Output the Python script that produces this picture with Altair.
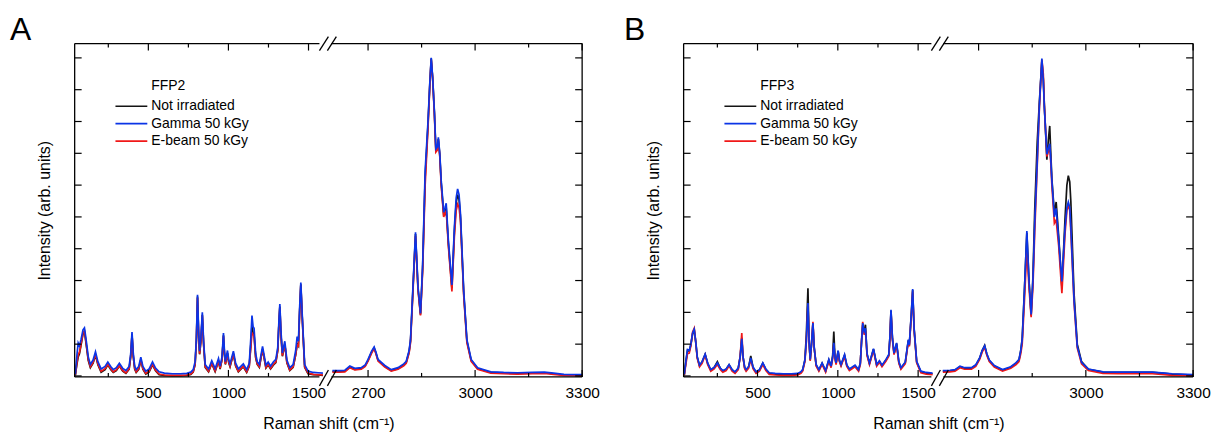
import altair as alt
import pandas as pd

FONT = "Liberation Sans"
SERIES = ["Not irradiated", "Gamma 50 kGy", "E-beam 50 kGy"]
COLORS = {"Not irradiated": "#141414", "Gamma 50 kGy": "#0b34e6", "E-beam 50 kGy": "#f01818"}
DRAW_ORDER = ["Not irradiated", "E-beam 50 kGy", "Gamma 50 kGy"]

X_LABEL_VALUES = [500, 1000, 1500, 2700, 3000, 3300]
X_MAJOR_TICKS = [500, 1000, 1500, 2700, 3000, 3300]
X_MINOR_TICKS = [250, 750, 1250, 2850, 3150]
Y_TICKS = [0.0, 0.1, 0.2, 0.3, 0.4, 0.5, 0.6, 0.7, 0.8, 0.9, 1.0]
X_BREAK_DOMAIN = [40, 1590, 2600, 3300]
Y_DOMAIN = [-0.003, 1.045]

# ---------------- Panel A (FFP2) ----------------
A_LOW_X = [44, 55, 62, 70, 80, 92, 101, 110, 125, 138,
           155, 170, 185, 205, 230, 247, 265, 281, 300, 319,
           340, 360, 380, 390, 398, 406, 415, 424, 440, 453,
           466, 484, 505, 526, 545, 567, 600, 650, 700, 740,
           765, 780, 792, 800, 807, 814, 820, 828, 837, 845,
           855, 876, 896, 917, 938, 948, 960, 969, 975, 981,
           994, 1002, 1010, 1031, 1045, 1062, 1093, 1114, 1130, 1140,
           1147, 1154, 1160, 1170, 1180, 1193, 1213, 1234, 1248, 1263,
           1280, 1296, 1308, 1315, 1321, 1328, 1337, 1352, 1365, 1383,
           1404, 1420, 1429, 1437, 1445, 1452, 1460, 1476, 1497, 1530,
           1560, 1590]
A_LOW_BLUE = [0.005, 0.070, 0.104, 0.095, 0.115, 0.145, 0.151, 0.120, 0.060, 0.036,
              0.050, 0.076, 0.045, 0.022, 0.030, 0.044, 0.030, 0.020, 0.026, 0.040,
              0.024, 0.017, 0.030, 0.070, 0.138, 0.070, 0.030, 0.020, 0.030, 0.059,
              0.030, 0.015, 0.022, 0.044, 0.025, 0.013, 0.009, 0.007, 0.007, 0.008,
              0.012, 0.020, 0.045, 0.120, 0.255, 0.140, 0.078, 0.120, 0.200, 0.110,
              0.036, 0.022, 0.048, 0.023, 0.055, 0.031, 0.060, 0.135, 0.080, 0.045,
              0.080, 0.050, 0.038, 0.078, 0.040, 0.022, 0.038, 0.020, 0.040, 0.120,
              0.190, 0.155, 0.150, 0.070, 0.045, 0.036, 0.093, 0.034, 0.044, 0.031,
              0.044, 0.052, 0.090, 0.170, 0.226, 0.140, 0.072, 0.109, 0.050, 0.026,
              0.036, 0.080, 0.124, 0.109, 0.220, 0.294, 0.200, 0.036, 0.015, 0.011,
              0.010, 0.009]
A_LOW_RED = [0.003, 0.045, 0.067, 0.075, 0.100, 0.135, 0.142, 0.110, 0.052, 0.029,
             0.043, 0.068, 0.038, 0.015, 0.023, 0.037, 0.023, 0.013, 0.019, 0.033,
             0.017, 0.010, 0.023, 0.062, 0.128, 0.062, 0.023, 0.013, 0.023, 0.051,
             0.023, 0.008, 0.015, 0.037, 0.018, 0.006, 0.003, 0.002, 0.002, 0.003,
             0.006, 0.013, 0.037, 0.110, 0.245, 0.130, 0.070, 0.110, 0.190, 0.100,
             0.029, 0.015, 0.040, 0.016, 0.047, 0.024, 0.052, 0.125, 0.072, 0.038,
             0.072, 0.043, 0.031, 0.070, 0.033, 0.015, 0.031, 0.013, 0.032, 0.090,
             0.135, 0.130, 0.128, 0.060, 0.038, 0.029, 0.085, 0.027, 0.037, 0.024,
             0.036, 0.044, 0.080, 0.160, 0.215, 0.130, 0.064, 0.100, 0.043, 0.019,
             0.029, 0.068, 0.098, 0.095, 0.205, 0.285, 0.190, 0.029, 0.009, 0.005,
             0.004, 0.003]
A_LOW_BLACK = [0.002, 0.040, 0.060, 0.070, 0.098, 0.132, 0.140, 0.106, 0.048, 0.026,
               0.040, 0.066, 0.035, 0.012, 0.020, 0.035, 0.020, 0.011, 0.017, 0.031,
               0.015, 0.008, 0.021, 0.060, 0.130, 0.060, 0.021, 0.011, 0.021, 0.050,
               0.021, 0.006, 0.013, 0.035, 0.016, 0.004, 0.002, 0.001, 0.001, 0.002,
               0.005, 0.012, 0.036, 0.112, 0.250, 0.128, 0.068, 0.108, 0.192, 0.098,
               0.027, 0.013, 0.039, 0.014, 0.046, 0.022, 0.051, 0.128, 0.070, 0.036,
               0.071, 0.041, 0.029, 0.069, 0.031, 0.013, 0.029, 0.011, 0.030, 0.100,
               0.160, 0.135, 0.130, 0.058, 0.036, 0.027, 0.084, 0.025, 0.035, 0.022,
               0.034, 0.042, 0.080, 0.162, 0.218, 0.128, 0.062, 0.100, 0.041, 0.017,
               0.027, 0.066, 0.100, 0.094, 0.208, 0.288, 0.192, 0.027, 0.007, 0.004,
               0.003, 0.002]

A_HIGH_X = [2600, 2620, 2635, 2649, 2663, 2681, 2692, 2700, 2710, 2717,
            2722, 2728, 2747, 2765, 2784, 2800, 2807, 2815, 2819, 2825,
            2833, 2840, 2847, 2853, 2860, 2868, 2873, 2877, 2881, 2886,
            2890, 2894, 2897, 2901, 2905, 2912, 2916, 2919, 2925, 2935,
            2942, 2947, 2951, 2955, 2959, 2968, 2977, 2989, 3007, 3044,
            3080, 3119, 3160, 3194, 3220, 3249, 3300]
A_HIGH_BLUE = [0.017, 0.017, 0.018, 0.031, 0.024, 0.026, 0.035, 0.052, 0.078, 0.091,
               0.075, 0.052, 0.033, 0.020, 0.026, 0.038, 0.046, 0.080, 0.114, 0.260,
               0.452, 0.280, 0.197, 0.350, 0.645, 0.800, 0.920, 1.000, 0.940, 0.830,
               0.714, 0.720, 0.750, 0.700, 0.614, 0.515, 0.530, 0.543, 0.427, 0.286,
               0.468, 0.560, 0.588, 0.570, 0.510, 0.270, 0.114, 0.052, 0.026, 0.013,
               0.011, 0.010, 0.011, 0.012, 0.009, 0.005, 0.004]
A_HIGH_RED = [0.012, 0.012, 0.013, 0.026, 0.019, 0.021, 0.030, 0.047, 0.072, 0.086,
              0.070, 0.047, 0.028, 0.015, 0.021, 0.032, 0.040, 0.072, 0.105, 0.245,
              0.440, 0.270, 0.190, 0.330, 0.600, 0.780, 0.910, 0.995, 0.935, 0.820,
              0.704, 0.710, 0.740, 0.690, 0.600, 0.500, 0.512, 0.520, 0.410, 0.266,
              0.440, 0.520, 0.540, 0.530, 0.490, 0.255, 0.105, 0.046, 0.021, 0.009,
              0.007, 0.006, 0.007, 0.008, 0.005, 0.002, 0.001]
A_HIGH_BLACK = [0.014, 0.014, 0.015, 0.028, 0.021, 0.023, 0.032, 0.049, 0.075, 0.088,
                0.072, 0.049, 0.030, 0.017, 0.023, 0.035, 0.043, 0.076, 0.110, 0.252,
                0.446, 0.275, 0.193, 0.340, 0.625, 0.790, 0.915, 0.998, 0.938, 0.825,
                0.709, 0.715, 0.745, 0.695, 0.607, 0.505, 0.508, 0.530, 0.418, 0.276,
                0.455, 0.545, 0.570, 0.555, 0.500, 0.262, 0.110, 0.049, 0.023, 0.011,
                0.009, 0.008, 0.009, 0.010, 0.007, 0.003, 0.002]

# ---------------- Panel B (FFP3) ----------------
B_LOW_X = [44, 55, 64, 75, 85, 96, 106, 115, 125, 139,
           155, 174, 190, 209, 230, 250, 268, 284, 305, 323,
           342, 360, 380, 392, 402, 410, 420, 429, 445, 458,
           472, 491, 512, 533, 552, 573, 610, 660, 710, 750,
           770, 781, 795, 804, 814, 821, 828, 836, 845, 853,
           865, 882, 902, 924, 944, 958, 968, 975, 982, 989,
           1002, 1010, 1020, 1042, 1056, 1072, 1107, 1129, 1140, 1148,
           1155, 1164, 1172, 1182, 1197, 1222, 1242, 1259, 1275, 1300,
           1317, 1324, 1331, 1340, 1350, 1366, 1380, 1393, 1420, 1439,
           1445, 1458, 1466, 1475, 1491, 1517, 1550, 1590]
B_LOW_BLUE = [0.005, 0.050, 0.083, 0.080, 0.100, 0.135, 0.147, 0.110, 0.060, 0.034,
              0.045, 0.069, 0.040, 0.020, 0.027, 0.041, 0.025, 0.017, 0.022, 0.036,
              0.020, 0.013, 0.025, 0.060, 0.117, 0.060, 0.028, 0.020, 0.030, 0.057,
              0.028, 0.013, 0.020, 0.041, 0.022, 0.010, 0.008, 0.007, 0.007, 0.008,
              0.013, 0.020, 0.050, 0.110, 0.229, 0.110, 0.052, 0.100, 0.166, 0.090,
              0.036, 0.020, 0.041, 0.017, 0.052, 0.031, 0.060, 0.104, 0.060, 0.041,
              0.080, 0.050, 0.036, 0.067, 0.035, 0.022, 0.034, 0.020, 0.040, 0.110,
              0.166, 0.140, 0.150, 0.070, 0.041, 0.086, 0.036, 0.048, 0.034, 0.052,
              0.067, 0.120, 0.208, 0.120, 0.072, 0.104, 0.045, 0.026, 0.044, 0.114,
              0.098, 0.200, 0.273, 0.150, 0.046, 0.015, 0.011, 0.009]
B_LOW_RED = [0.003, 0.040, 0.070, 0.072, 0.095, 0.138, 0.150, 0.108, 0.055, 0.029,
             0.040, 0.066, 0.035, 0.015, 0.022, 0.036, 0.020, 0.012, 0.017, 0.032,
             0.015, 0.008, 0.020, 0.062, 0.135, 0.058, 0.023, 0.015, 0.025, 0.052,
             0.023, 0.008, 0.015, 0.036, 0.017, 0.005, 0.003, 0.002, 0.002, 0.003,
             0.008, 0.015, 0.045, 0.108, 0.225, 0.108, 0.047, 0.098, 0.170, 0.088,
             0.031, 0.015, 0.036, 0.012, 0.047, 0.026, 0.055, 0.100, 0.055, 0.036,
             0.075, 0.045, 0.031, 0.062, 0.030, 0.017, 0.029, 0.015, 0.036, 0.115,
             0.170, 0.130, 0.140, 0.064, 0.036, 0.081, 0.031, 0.043, 0.029, 0.047,
             0.062, 0.112, 0.200, 0.114, 0.067, 0.098, 0.040, 0.021, 0.039, 0.108,
             0.093, 0.192, 0.265, 0.145, 0.041, 0.010, 0.006, 0.004]
B_LOW_BLACK = [0.004, 0.048, 0.080, 0.078, 0.098, 0.133, 0.145, 0.108, 0.058, 0.032,
               0.044, 0.068, 0.039, 0.018, 0.027, 0.045, 0.024, 0.015, 0.021, 0.035,
               0.019, 0.011, 0.024, 0.060, 0.120, 0.060, 0.026, 0.018, 0.029, 0.063,
               0.027, 0.011, 0.018, 0.040, 0.020, 0.008, 0.006, 0.005, 0.005, 0.006,
               0.011, 0.018, 0.050, 0.130, 0.276, 0.110, 0.050, 0.098, 0.165, 0.088,
               0.034, 0.018, 0.040, 0.015, 0.050, 0.030, 0.065, 0.140, 0.060, 0.040,
               0.078, 0.048, 0.034, 0.065, 0.033, 0.020, 0.032, 0.018, 0.040, 0.110,
               0.160, 0.140, 0.161, 0.068, 0.039, 0.084, 0.034, 0.046, 0.032, 0.050,
               0.065, 0.118, 0.205, 0.118, 0.070, 0.102, 0.043, 0.024, 0.042, 0.112,
               0.096, 0.198, 0.270, 0.148, 0.044, 0.013, 0.009, 0.007]

B_HIGH_X = [2600, 2620, 2634, 2648, 2661, 2680, 2692, 2703, 2710, 2717,
            2723, 2730, 2744, 2767, 2790, 2805, 2813, 2818, 2822, 2828,
            2835, 2841, 2847, 2852, 2857, 2864, 2870, 2877, 2881, 2884,
            2891, 2895, 2899, 2902, 2905, 2912, 2917, 2924, 2933, 2942,
            2947, 2951, 2955, 2958, 2967, 2976, 2988, 3007, 3048, 3090,
            3140, 3186, 3220, 3241, 3300]
B_HIGH_BLUE = [0.017, 0.018, 0.020, 0.031, 0.026, 0.026, 0.035, 0.057, 0.080, 0.095,
               0.070, 0.050, 0.033, 0.020, 0.029, 0.042, 0.052, 0.080, 0.114, 0.260,
               0.456, 0.300, 0.193, 0.300, 0.479, 0.672, 0.850, 0.998, 0.930, 0.843,
               0.697, 0.715, 0.730, 0.680, 0.614, 0.500, 0.527, 0.427, 0.297, 0.468,
               0.530, 0.547, 0.530, 0.468, 0.239, 0.093, 0.043, 0.022, 0.013, 0.012,
               0.012, 0.012, 0.009, 0.007, 0.004]
B_HIGH_RED = [0.012, 0.013, 0.015, 0.026, 0.021, 0.021, 0.030, 0.052, 0.075, 0.090,
              0.065, 0.045, 0.028, 0.015, 0.024, 0.036, 0.045, 0.070, 0.100, 0.230,
              0.400, 0.280, 0.185, 0.280, 0.450, 0.660, 0.840, 0.995, 0.950, 0.850,
              0.690, 0.705, 0.720, 0.670, 0.600, 0.480, 0.490, 0.410, 0.260, 0.450,
              0.520, 0.537, 0.520, 0.455, 0.230, 0.088, 0.038, 0.017, 0.008, 0.007,
              0.007, 0.007, 0.004, 0.002, 0.001]
B_HIGH_BLACK = [0.015, 0.016, 0.018, 0.029, 0.024, 0.024, 0.033, 0.056, 0.080, 0.096,
                0.069, 0.048, 0.031, 0.018, 0.027, 0.040, 0.050, 0.080, 0.118, 0.265,
                0.450, 0.300, 0.190, 0.310, 0.520, 0.735, 0.860, 0.990, 0.935, 0.850,
                0.680, 0.740, 0.786, 0.700, 0.620, 0.510, 0.547, 0.440, 0.280, 0.500,
                0.600, 0.630, 0.610, 0.550, 0.260, 0.100, 0.045, 0.021, 0.012, 0.011,
                0.011, 0.011, 0.008, 0.006, 0.003]

H = 335


def spectra_frame(low_x, high_x, low_series, high_series):
    rows = []
    for name in SERIES:
        for x, y in zip(low_x, low_series[name]):
            rows.append({"x": x, "y": y, "series": name, "seg": "low"})
        for x, y in zip(high_x, high_series[name]):
            rows.append({"x": x, "y": y, "series": name, "seg": "high"})
    return pd.DataFrame(rows)


def panel(letter, letter_dx, legend_title, df, width, xrange, gap_left, gap_right):
    xs = alt.Scale(domain=X_BREAK_DOMAIN, range=xrange, nice=False, zero=False)
    ys = alt.Scale(domain=Y_DOMAIN, nice=False, zero=False)
    xaxis = alt.Axis(values=X_LABEL_VALUES, format="d", ticks=False, domain=False, grid=False,
                     labelPadding=9, labelFontSize=15.5, labelFont=FONT, labelColor="black",
                     labelFlush=False, labelOverlap=False,
                     title="Raman shift (cm⁻¹)", titleFont=FONT, titleFontSize=16,
                     titleFontWeight="normal", titleColor="black", titlePadding=14.5)
    yaxis = alt.Axis(labels=False, ticks=False, domain=False, grid=False,
                     title="Intensity (arb. units)", titleFont=FONT, titleFontSize=16,
                     titleFontWeight="normal", titleColor="black", titlePadding=22)
    one = pd.DataFrame({"k": [0]})
    layers = []
    for name in DRAW_ORDER:
        layers.append(
            alt.Chart(df[df.series == name]).mark_line(color=COLORS[name], strokeWidth=1.7).encode(
                x=alt.X("x:Q", scale=xs, axis=xaxis),
                y=alt.Y("y:Q", scale=ys, axis=yaxis),
                detail="seg:N",
            )
        )

    def frule(**enc):
        return alt.Chart(one).mark_rule(color="black", strokeWidth=1.3).encode(**enc)

    # frame with a gap at the axis break
    layers += [
        frule(x=alt.value(0), y=alt.value(0), y2=alt.value(H)),
        frule(x=alt.value(width), y=alt.value(0), y2=alt.value(H)),
        frule(x=alt.value(0), x2=alt.value(gap_left), y=alt.value(0)),
        frule(x=alt.value(gap_right), x2=alt.value(width), y=alt.value(0)),
        frule(x=alt.value(0), x2=alt.value(gap_left), y=alt.value(H)),
        frule(x=alt.value(gap_right), x2=alt.value(width), y=alt.value(H)),
    ]
    # break marks
    for dx in (0, 8):
        layers.append(frule(x=alt.value(gap_left + dx), x2=alt.value(gap_left + dx + 9),
                            y=alt.value(7), y2=alt.value(-7)))
        layers.append(frule(x=alt.value(gap_left + dx), x2=alt.value(gap_left + dx + 9),
                            y=alt.value(H + 9), y2=alt.value(H - 7)))

    major = pd.DataFrame({"v": X_MAJOR_TICKS})
    minor = pd.DataFrame({"v": X_MINOR_TICKS})
    yt = pd.DataFrame({"v": Y_TICKS})

    def trule(data):
        return alt.Chart(data).mark_rule(color="black", strokeWidth=1.2)

    for data, ln in ((major, 7), (minor, 4)):
        layers.append(trule(data).encode(x=alt.X("v:Q", scale=xs, axis=xaxis),
                                         y=alt.value(H - ln), y2=alt.value(H)))
        layers.append(trule(data).encode(x=alt.X("v:Q", scale=xs, axis=xaxis),
                                         y=alt.value(0), y2=alt.value(ln)))
    layers.append(trule(yt).encode(y=alt.Y("v:Q", scale=ys, axis=yaxis),
                                   x=alt.value(0), x2=alt.value(7)))
    layers.append(trule(yt).encode(y=alt.Y("v:Q", scale=ys, axis=yaxis),
                                   x=alt.value(width - 7), x2=alt.value(width)))

    # legend
    layers.append(alt.Chart(one).mark_text(text=legend_title, font=FONT, fontSize=14, align="left",
                                           baseline="middle", color="black")
                  .encode(x=alt.value(77), y=alt.value(43)))
    for i, name in enumerate(SERIES):
        yy = 63 + 17.5 * i
        layers.append(alt.Chart(one).mark_rule(color=COLORS[name], strokeWidth=1.7)
                      .encode(x=alt.value(41), x2=alt.value(73), y=alt.value(yy)))
        layers.append(alt.Chart(one).mark_text(text=name, font=FONT, fontSize=14, align="left",
                                               baseline="middle", color="black")
                      .encode(x=alt.value(77), y=alt.value(yy)))
    # panel letter
    layers.append(alt.Chart(one).mark_text(text=letter, font=FONT, fontSize=32, align="left",
                                           baseline="alphabetic", color="black")
                  .encode(x=alt.value(letter_dx), y=alt.value(-4)))
    return alt.layer(*layers).properties(width=width, height=H)


df_a = spectra_frame(
    A_LOW_X, A_HIGH_X,
    {"Not irradiated": A_LOW_BLACK, "Gamma 50 kGy": A_LOW_BLUE, "E-beam 50 kGy": A_LOW_RED},
    {"Not irradiated": A_HIGH_BLACK, "Gamma 50 kGy": A_HIGH_BLUE, "E-beam 50 kGy": A_HIGH_RED},
)
df_b = spectra_frame(
    B_LOW_X, B_HIGH_X,
    {"Not irradiated": B_LOW_BLACK, "Gamma 50 kGy": B_LOW_BLUE, "E-beam 50 kGy": B_LOW_RED},
    {"Not irradiated": B_HIGH_BLACK, "Gamma 50 kGy": B_HIGH_BLUE, "E-beam 50 kGy": B_HIGH_RED},
)

chart_a = panel("A", -65, "FFP2", df_a, 510, [0, 249.5, 259, 510], 246, 258)
chart_b = panel("B", -60, "FFP3", df_b, 512, [0, 250.2, 260.5, 512], 249, 261)

chart = alt.hconcat(chart_a, chart_b, spacing=102, bounds="flush").properties(
    padding={"left": 2, "top": 4.7, "right": 0, "bottom": 0}
).configure_view(stroke=None)

chart.save("out.html", embed_options={"renderer": "svg", "actions": False})
